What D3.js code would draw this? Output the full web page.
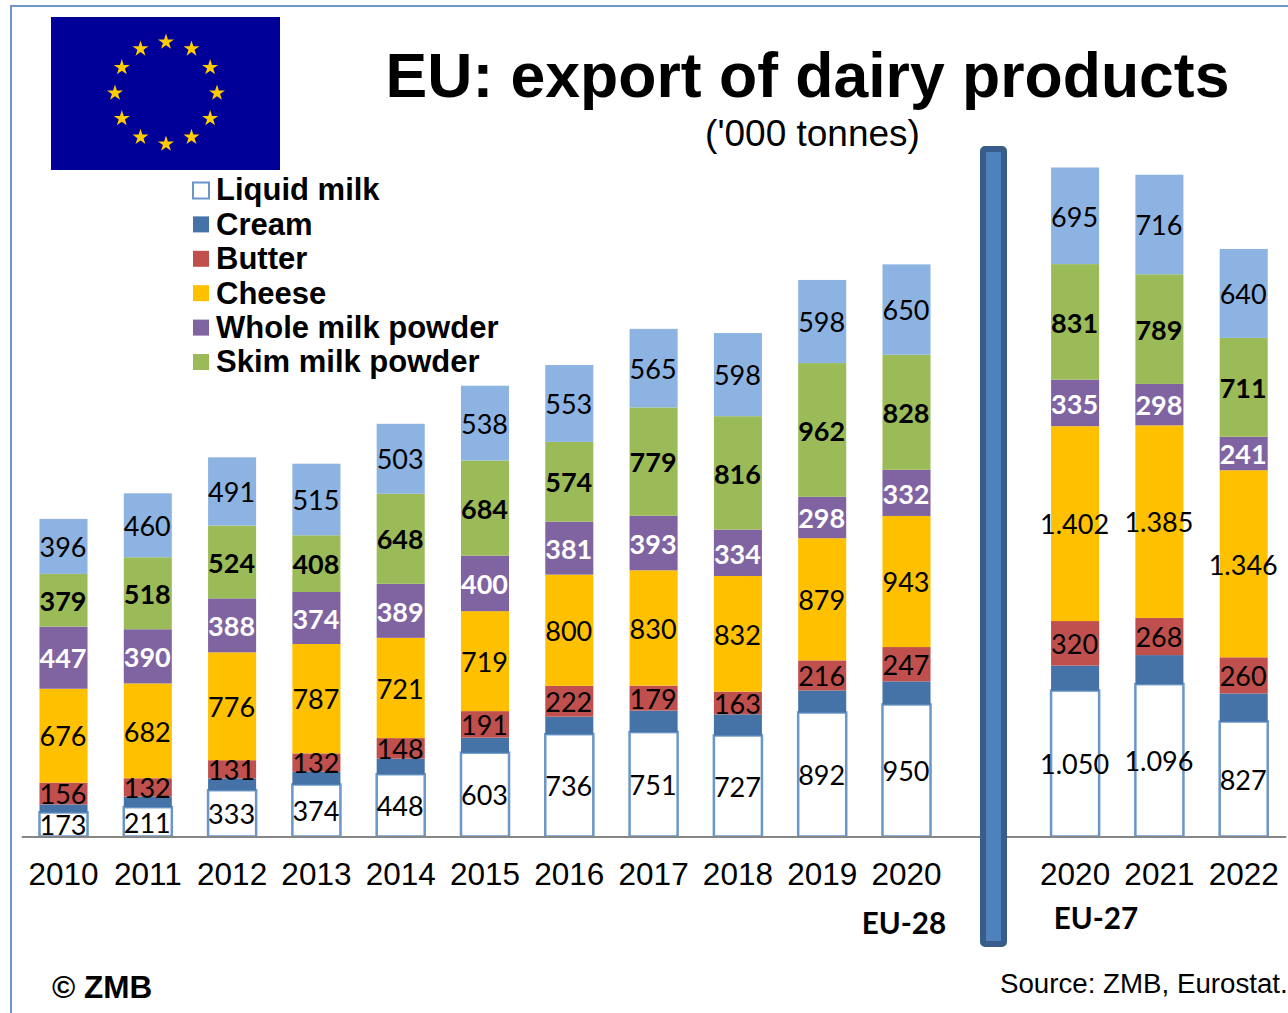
<!DOCTYPE html>
<html><head><meta charset="utf-8">
<style>html,body{margin:0;padding:0;background:#fff;overflow:hidden}svg{display:block}</style>
<script src="https://cdn.jsdelivr.net/npm/d3@7/dist/d3.min.js"></script>
</head><body><svg id="c" width="1288" height="1013"></svg>
<script>
const slots = ["2010","2011","2012","2013","2014","2015","2016","2017","2018","2019","2020a","gap","2020b","2021","2022"];
const categories = slots.filter(s => s !== "gap");
const liquidMilk = [173,211,333,374,448,603,736,751,727,892,950,1050,1096,827];
const cream      = [58,76,85,92,112,108,126,155,152,159,166,180,209,202];
const butter     = [156,132,131,132,148,191,222,179,163,216,247,320,268,260];
const cheese     = [676,682,776,787,721,719,800,830,832,879,943,1402,1385,1346];
const wholeMilkPowder = [447,390,388,374,389,400,381,393,334,298,332,335,298,241];
const skimMilkPowder  = [379,518,524,408,648,684,574,779,816,962,828,831,789,711];
const others     = [396,460,491,515,503,538,553,565,598,598,650,695,716,640];
const seriesNames = ["Liquid milk","Cream","Butter","Cheese","Whole milk powder","Skim milk powder","Others"];
const seriesValues = [liquidMilk,cream,butter,cheese,wholeMilkPowder,skimMilkPowder,others];
const seriesColors = ["#ffffff","#4573a7","#c0504d","#ffc000","#8064a2","#9bbb59","#8db3e2"];
const labelStyle = [
 {show:true,weight:400,fill:"#000"},{show:false},{show:true,weight:400,fill:"#000"},
 {show:true,weight:400,fill:"#000"},{show:true,weight:700,fill:"#fff"},
 {show:true,weight:700,fill:"#000"},{show:true,weight:400,fill:"#000"}];

const svg = d3.select("#c");
const SANS = "'Liberation Sans',Arial,sans-serif";
const LABEL = "Lato,'Open Sans',sans-serif";
const BLUE = "#6a96c8";

// frame
svg.append("path").attr("d","M11,1013V6H1288").attr("fill","none").attr("stroke",BLUE).attr("stroke-width",2);

// flag
svg.append("rect").attr("x",51).attr("y",17).attr("width",229).attr("height",153).attr("fill","#000099");
const star = d3.symbol().type(d3.symbolStar).size(80);
svg.append("g").selectAll("path").data(d3.range(12)).join("path").attr("d",star).attr("fill","#ffcc00")
  .attr("transform",i=>`translate(${166+51*Math.sin(i*Math.PI/6)},${93-51*Math.cos(i*Math.PI/6)})`);

// title
svg.append("text").attr("x",807.5).attr("y",97).attr("text-anchor","middle")
  .attr("font-family",SANS).attr("font-weight",700).attr("font-size",62.5).text("EU: export of dairy products");
svg.append("text").attr("x",812.5).attr("y",146).attr("text-anchor","middle")
  .attr("font-family",SANS).attr("font-size",37).text("('000 tonnes)");

// scales
const x = d3.scaleBand().domain(slots).range([21.35,1285.85]).paddingInner(0.43).paddingOuter(0.215);
const y = d3.scaleLinear().domain([0,1000]).range([836.5,697.5]);

// stacked bars
const stacked = d3.stack().keys(d3.range(seriesNames.length)).value((row,k)=>seriesValues[k][row])(d3.range(categories.length));
const layers = svg.append("g");
stacked.forEach((layer,k)=>{
  const g = layers.append("g");
  g.selectAll("rect").data(layer).join("rect")
    .attr("x",(d,i)=>x(categories[i]))
    .attr("width",x.bandwidth())
    .attr("y",d=>y(d[1]))
    .attr("height",d=>y(d[0])-y(d[1]))
    .attr("fill",seriesColors[k])
    .attr("stroke",k===0?BLUE:"none")
    .attr("stroke-width",k===0?2.5:0);
});

// axis
const axis = d3.axisBottom(x).tickSize(0).tickPadding(26)
  .tickValues(categories).tickFormat(d=>d.slice(0,4));
const ax = svg.append("g").attr("transform",`translate(0,${y(0)})`).call(axis);
ax.select(".domain").attr("stroke","#868686").attr("stroke-width",2);
ax.selectAll("text").attr("font-family",SANS).attr("font-size",31.5).attr("fill","#000");

// value labels
const fmt = d3.formatLocale({decimal:",",thousands:".",grouping:[3],currency:["",""]}).format(",d");
stacked.forEach((layer,k)=>{
  if(!labelStyle[k].show) return;
  svg.append("g").selectAll("text").data(layer).join("text")
    .attr("x",(d,i)=>x(categories[i])+x.bandwidth()/2-0.5)
    .attr("y",d=>(y(d[0])+y(d[1]))/2+1)
    .attr("dy","0.36em").attr("text-anchor","middle")
    .attr("font-family",LABEL).attr("font-size",27)
    .attr("font-weight",labelStyle[k].weight).attr("fill",labelStyle[k].fill)
    .text((d,i)=>fmt(seriesValues[k][i]));
});

// divider
svg.append("rect").attr("x",983).attr("y",149).attr("width",21).attr("height",795).attr("rx",2)
  .attr("fill","#4f81bd").attr("stroke","#385d8a").attr("stroke-width",6);

// legend
const legendNames = seriesNames.slice(0,6);
const legendRow = d3.scalePoint().domain(legendNames).range([189.5,361.5]);
const lg = svg.append("g").selectAll("g").data(legendNames).join("g");
lg.append("rect").attr("x",(d,i)=>i?193:193).attr("y",(d,i)=>legendRow(d)-(i?7.5:7)).attr("width",16).attr("height",(d,i)=>i?16:16)
  .attr("fill",(d,i)=>seriesColors[i]).attr("stroke",(d,i)=>i?"none":BLUE).attr("stroke-width",2);
lg.append("text").attr("x",216).attr("y",d=>legendRow(d)).attr("dy","0.35em")
  .attr("font-family",SANS).attr("font-weight",700).attr("font-size",31).text(d=>d);

// annotations
svg.append("text").attr("x",904).attr("y",934).attr("text-anchor","middle").attr("font-family",LABEL).attr("font-weight",700).attr("font-size",29.6).text("EU-28");
svg.append("text").attr("x",1096).attr("y",929).attr("text-anchor","middle").attr("font-family",LABEL).attr("font-weight",700).attr("font-size",29.6).text("EU-27");
svg.append("text").attr("x",52).attr("y",998).attr("font-family",SANS).attr("font-weight",700).attr("font-size",31.5).text("© ZMB");
svg.append("text").attr("x",1000).attr("y",993).attr("font-family",SANS).attr("font-size",27.7).text("Source: ZMB, Eurostat.");
</script></body></html>
